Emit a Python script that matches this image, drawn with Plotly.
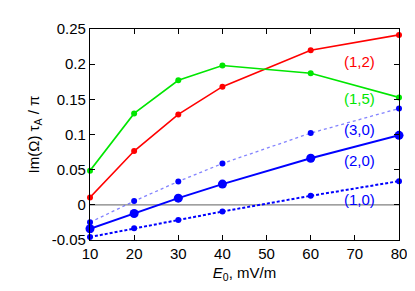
import plotly.graph_objects as go

E0 = [10, 20, 30, 40, 60, 80]
s12 = [0.0105, 0.0765, 0.1286, 0.168, 0.2197, 0.2416]
s15 = [0.0486, 0.130, 0.177, 0.198, 0.187, 0.1527]
s30 = [-0.0249, 0.0053, 0.0332, 0.0588, 0.102, 0.137]
s20 = [-0.034, -0.0123, 0.0095, 0.0295, 0.0662, 0.0988]
s10 = [-0.0458, -0.0332, -0.0216, -0.0095, 0.0128, 0.0337]

labels = ["(1,2)", "(1,5)", "(3,0)", "(2,0)", "(1,0)"]
label_y = [0.204, 0.151, 0.107, 0.0625, 0.008]
label_x = 71

RED = "#ff0000"
GREEN = "#00e600"
BLUE = "#0000ff"

fig = go.Figure()
fig.add_hline(y=0, line=dict(color="#808080", width=1.2), layer="below")

def add(y, color, lw, ms, dash="solid", lcolor=None):
    fig.add_trace(go.Scatter(
        x=E0, y=y, mode="lines+markers",
        line=dict(color=lcolor or color, width=lw, dash=dash),
        marker=dict(color=color, size=ms),
        cliponaxis=False, showlegend=False))

add(s12, RED, 1.6, 6)
add(s15, GREEN, 1.6, 6)
add(s30, BLUE, 1.3, 6, "dot", "rgba(90,90,255,0.75)")
add(s20, BLUE, 2.0, 9)
add(s10, BLUE, 2.0, 6, "3px,2px")

colors = [RED, GREEN, BLUE, BLUE, BLUE]
for t, yy, c in zip(labels, label_y, colors):
    fig.add_annotation(x=label_x, y=yy, text=t, showarrow=False,
                       font=dict(color=c, size=15), xanchor="center", yanchor="middle")

axis_common = dict(showline=True, linecolor="black", linewidth=1.2, mirror="ticks",
                   ticks="inside", ticklen=5, tickcolor="black", showgrid=False,
                   zeroline=False, tickfont=dict(size=15, color="black"))

fig.update_xaxes(range=[10, 80], tickvals=[10, 20, 30, 40, 50, 60, 70, 80],
                 title=dict(text="<i>E</i><sub>0</sub>, mV/m", font=dict(size=15), standoff=6),
                 **axis_common)
fig.update_yaxes(range=[-0.05, 0.25], tickvals=[-0.05, 0, 0.05, 0.1, 0.15, 0.2, 0.25],
                 ticktext=["-0.05", "0", "0.05", "0.1", "0.15", "0.2", "0.25"],
                 title=dict(text="Im(Ω) τ<sub>A</sub> / π", font=dict(size=15), standoff=8),
                 **axis_common)

fig.update_layout(width=415, height=291, margin=dict(l=82, r=24, t=17, b=59),
                  plot_bgcolor="white", paper_bgcolor="white",
                  font=dict(family="Liberation Sans, Arial, sans-serif", color="black"))

fig.write_html("out.html")
